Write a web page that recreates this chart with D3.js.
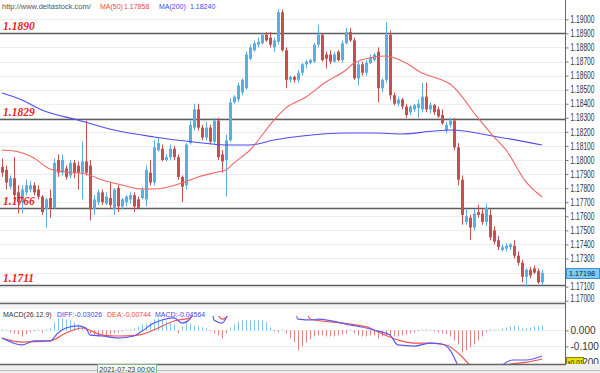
<!DOCTYPE html>
<html>
<head>
<meta charset="utf-8">
<script src="https://cdn.jsdelivr.net/npm/d3@7"></script>
<style>
body { margin: 0; background: #fff; }
svg { display: block; font-family: 'Liberation Sans', Arial, sans-serif; }
</style>
</head>
<body>
<svg id="chart" width="600" height="373"></svg>
<script>
// candles, one row per bar: [open, high, low, close]
var ohlc = [
	[1.1795,1.1801,1.1788,1.1791],[1.1793,1.1796,1.1779,1.1784],[1.1781,1.1789,1.1779,1.1787],[1.1787,1.1802,1.1772,1.1775],
	[1.1777,1.1782,1.1762,1.1770],[1.1770,1.1782,1.1762,1.1779],[1.1777,1.1786,1.1775,1.1782],[1.1779,1.1785,1.1777,1.1782],
	[1.1782,1.1784,1.1775,1.1777],[1.1779,1.1782,1.1772,1.1774],[1.1774,1.1775,1.1761,1.1763],[1.1765,1.1773,1.1752,1.1772],
	[1.1773,1.1779,1.1759,1.1766],[1.1766,1.1801,1.1765,1.1798],[1.1800,1.1804,1.1788,1.1791],[1.1791,1.1804,1.1789,1.1800],
	[1.1794,1.1796,1.1786,1.1788],[1.1789,1.1800,1.1787,1.1798],[1.1798,1.1800,1.1787,1.1791],[1.1796,1.1799,1.1779,1.1791],
	[1.1791,1.1813,1.1772,1.1799],[1.1799,1.1828,1.1789,1.1791],[1.1796,1.1800,1.1757,1.1765],[1.1765,1.1775,1.1761,1.1772],
	[1.1770,1.1779,1.1768,1.1777],[1.1777,1.1779,1.1768,1.1770],[1.1769,1.1777,1.1768,1.1774],[1.1773,1.1784,1.1765,1.1768],
	[1.1765,1.1780,1.1761,1.1779],[1.1780,1.1782,1.1763,1.1767],
	[1.1767,1.1773,1.1765,1.1772],[1.1770,1.1775,1.1767,1.1774],[1.1772,1.1777,1.1769,1.1775],[1.1775,1.1777,1.1763,1.1767],
	[1.1772,1.1774,1.1765,1.1766],[1.1773,1.1781,1.1772,1.1779],[1.1772,1.1796,1.1767,1.1793],[1.1791,1.1800,1.1782,1.1784],
	[1.1784,1.1814,1.1782,1.1809],[1.1807,1.1816,1.1806,1.1812],[1.1808,1.1811,1.1799,1.1800],[1.1800,1.1804,1.1799,1.1802],
	[1.1802,1.1811,1.1800,1.1808],[1.1808,1.1810,1.1800,1.1802],[1.1802,1.1804,1.1786,1.1788],[1.1788,1.1789,1.1770,1.1781],
	[1.1782,1.1812,1.1779,1.1811],[1.1812,1.1828,1.1811,1.1825],[1.1823,1.1840,1.1821,1.1836],[1.1836,1.1840,1.1821,1.1823],
	[1.1823,1.1825,1.1814,1.1816],[1.1816,1.1827,1.1814,1.1823],[1.1823,1.1825,1.1811,1.1813],[1.1813,1.1830,1.1811,1.1828],
	[1.1828,1.1830,1.1800,1.1802],[1.1804,1.1807,1.1791,1.1799],[1.1800,1.1818,1.1774,1.1814],[1.1814,1.1844,1.1813,1.1841],
	[1.1841,1.1846,1.1840,1.1845],
	[1.1843,1.1855,1.1841,1.1853],[1.1848,1.1858,1.1846,1.1857],[1.1851,1.1877,1.1850,1.1875],[1.1872,1.1882,1.1871,1.1880],
	[1.1878,1.1885,1.1877,1.1883],[1.1882,1.1887,1.1880,1.1884],[1.1883,1.1890,1.1882,1.1889],[1.1889,1.1891,1.1884,1.1885],
	[1.1887,1.1891,1.1880,1.1882],[1.1880,1.1887,1.1877,1.1885],[1.1884,1.1907,1.1882,1.1905],[1.1905,1.1907,1.1877,1.1878],
	[1.1878,1.1880,1.1851,1.1857],[1.1857,1.1860,1.1855,1.1859],[1.1859,1.1860,1.1855,1.1857],[1.1857,1.1864,1.1855,1.1862],
	[1.1862,1.1869,1.1860,1.1868],[1.1868,1.1871,1.1865,1.1870],[1.1869,1.1872,1.1868,1.1871],[1.1870,1.1883,1.1869,1.1882],
	[1.1882,1.1896,1.1880,1.1889],[1.1889,1.1890,1.1870,1.1871],[1.1875,1.1877,1.1865,1.1872],[1.1875,1.1878,1.1868,1.1870],
	[1.1870,1.1877,1.1869,1.1875],[1.1877,1.1878,1.1870,1.1871],[1.1871,1.1885,1.1869,1.1883],
	[1.1883,1.1894,1.1882,1.1891],[1.1891,1.1894,1.1884,1.1885],[1.1885,1.1887,1.1857,1.1858],[1.1858,1.1870,1.1853,1.1868],
	[1.1868,1.1870,1.1860,1.1862],[1.1862,1.1871,1.1860,1.1869],[1.1869,1.1875,1.1868,1.1873],[1.1871,1.1876,1.1870,1.1875],
	[1.1877,1.1880,1.1841,1.1851],[1.1851,1.1858,1.1848,1.1857],[1.1857,1.1898,1.1855,1.1889],[1.1889,1.1892,1.1843,1.1846],
	[1.1846,1.1848,1.1839,1.1840],[1.1840,1.1845,1.1838,1.1843],[1.1843,1.1844,1.1836,1.1838],[1.1838,1.1840,1.1830,1.1832],
	[1.1834,1.1839,1.1832,1.1838],[1.1836,1.1840,1.1834,1.1839],[1.1837,1.1843,1.1830,1.1840],[1.1836,1.1855,1.1834,1.1845],
	[1.1845,1.1855,1.1834,1.1836],[1.1836,1.1841,1.1833,1.1839],[1.1839,1.1840,1.1832,1.1834],[1.1836,1.1838,1.1830,1.1831],
	[1.1832,1.1836,1.1825,1.1826],[1.1821,1.1827,1.1819,1.1825],[1.1825,1.1830,1.1823,1.1828],[1.1828,1.1830,1.1807,1.1809],
	[1.1809,1.1812,1.1782,1.1786],[1.1786,1.1789,1.1754,1.1761],[1.1756,1.1765,1.1754,1.1760],[1.1759,1.1761,1.1743,1.1752],
	[1.1752,1.1765,1.1750,1.1762],[1.1763,1.1768,1.1759,1.1761],[1.1762,1.1765,1.1754,1.1756],[1.1756,1.1769,1.1753,1.1766],
	[1.1761,1.1765,1.1743,1.1745],[1.1750,1.1753,1.1740,1.1742],[1.1743,1.1746,1.1736,1.1738],[1.1736,1.1740,1.1735,1.1738],
	[1.1737,1.1741,1.1735,1.1739],[1.1738,1.1741,1.1736,1.1740],[1.1739,1.1743,1.1730,1.1732],[1.1732,1.1735,1.1725,1.1727],
	[1.1727,1.1729,1.1713,1.1717],[1.1717,1.1723,1.1710,1.1722],[1.1722,1.1724,1.1716,1.1718],[1.1723,1.1725,1.1719,1.1720],
	[1.1721,1.1723,1.1712,1.1713],[1.1713,1.1722,1.1711,1.17198]
];

// moving averages, read at some bars (bar index -> value)
var ma50Idx = [0,3,8,12,16,21,25,30,35,38,45,49,54,56,58,62,68,71,76,81,86,88,93,96,101,105,110,112,119,123,126,131,135];
var ma50 = [1.18071,1.18064,1.18014,1.17936,1.17915,1.17901,1.17858,1.17822,1.17794,1.17794,1.17837,1.17879,1.17915,1.17929,
	1.17979,1.18071,1.18284,1.18370,1.18448,1.18554,1.18640,1.18689,1.18732,1.18739,1.18689,1.18618,1.18569,1.18540,1.18299,
	1.18164,1.18071,1.17844,1.17737];
var ma200Idx = [0,5,10,19,28,38,48,56,62,68,75,86,93,100,108,112,124,135];
var ma200 = [1.18476,1.18426,1.18355,1.18284,1.18213,1.18164,1.18128,1.18107,1.18107,1.18142,1.18171,1.18192,1.18192,
	1.18185,1.18206,1.18213,1.18164,1.18107];

var levels = [1.1890, 1.1829, 1.1766, 1.1711];
var priceTicks = [1.170,1.171,1.172,1.173,1.174,1.175,1.176,1.177,1.178,1.179,1.180,
	1.181,1.182,1.183,1.184,1.185,1.186,1.187,1.188,1.189,1.190];
var lastPrice = 1.17198;

// MACD(26,12,9)
var macdHist = [
	0.006,0.006,-0.013,-0.019,-0.025,-0.038,-0.025,-0.013,-0.006,0.006,
	-0.013,0.006,0.013,0.05,0.075,0.075,0.069,0.063,0.05,0.038,
	0.025,0.013,-0.019,-0.031,-0.038,-0.031,-0.031,-0.025,-0.019,-0.013,
	-0.006,0.006,0.006,0.013,0.025,0.038,0.044,0.05,0.069,0.075,
	0.069,0.056,0.05,0.038,-0.019,0.025,0.05,0.044,0.031,0.025,
	0.019,0.013,-0.006,-0.019,-0.031,-0.05,-0.019,0.019,0.038,0.056,
	0.063,0.063,0.063,0.063,0.063,0.063,0.05,0.019,-0.006,-0.013,
	0.006,-0.019,-0.05,-0.075,-0.125,-0.1,-0.075,-0.056,-0.038,-0.031,
	-0.031,-0.038,-0.038,-0.038,-0.031,-0.025,-0.019,0.006,-0.019,-0.031,
	-0.038,-0.038,-0.031,-0.031,-0.05,-0.038,-0.031,-0.038,-0.038,-0.038,
	-0.031,-0.025,-0.019,-0.013,-0.006,0.006,0.006,0.006,-0.006,-0.013,
	-0.019,-0.025,-0.038,-0.063,-0.088,-0.138,-0.125,-0.106,-0.088,-0.063,
	-0.038,-0.013,0.006,0.006,0.006,0.013,0.019,0.025,0.031,0.025,
	0.013,0.013,0.019,0.025,0.025,0.031
];
var diffIdx = [0,5,8,12,14,16,19,21,22,25,29,33,35,38,40,43,45,47,49,52,53,55,56,58,72,74,78,79,87,92,94,97,99,103,107,110,112,114,118,122,125,128,131,135];
var diffVals = [-0.048,-0.091,-0.066,-0.066,-0.016,0.015,0.028,0.015,-0.029,-0.035,-0.048,-0.035,-0.004,0.046,0.065,0.078,
	0.046,0.071,0.2,0.2,0.065,0.046,0.078,0.25,0.25,0.071,0.065,0.071,0.034,0.009,-0.004,-0.029,-0.091,-0.098,-0.079,
	-0.085,-0.123,-0.22,-0.45,-0.35,-0.22,-0.185,-0.185,-0.16];
var deaIdx = [0,5,12,16,20,25,29,34,39,43,47,50,53,55,56,58,75,77,87,92,93,99,103,107,111,114,117,121,124,127,131,135];
var deaVals = [-0.048,-0.073,-0.066,-0.016,0.015,-0.029,-0.035,-0.029,0.015,0.059,0.078,0.15,0.13,0.071,0.078,0.2,0.2,
	0.071,0.040,0.015,0.003,-0.06,-0.079,-0.079,-0.091,-0.141,-0.22,-0.35,-0.3,-0.21,-0.2,-0.179];
var macdTicks = [0, -0.1, -0.2];
var dateLabel = '2021-07-23 00:00';

var upColor = '#5aafe2', downColor = '#c4514f';
var plotW = 565;
var axisFont = 7.5;
var svg = d3.select('#chart');

var x = d3.scaleLinear().domain([0, ohlc.length - 1]).range([2, 542]);
var y = d3.scaleLinear().domain([1.17, 1.19]).range([300.7, 19.3]);
var ym = d3.scaleLinear().domain([-0.21, 0.165]).range([364, 304]);

var defs = svg.append('defs');
defs.append('clipPath').attr('id', 'clipMain').append('rect')
	.attr('x', 0).attr('y', 0).attr('width', plotW).attr('height', 303);
defs.append('clipPath').attr('id', 'clipMacd').append('rect')
	.attr('x', 0).attr('y', 316).attr('width', plotW).attr('height', 48);

// ---- price panel
var main = svg.append('g').attr('clip-path', 'url(#clipMain)');

main.selectAll('line.grid').data(priceTicks).enter().append('line')
	.attr('x1', 0).attr('x2', plotW)
	.attr('y1', function (d) { return Math.round(y(d)) + 0.5; })
	.attr('y2', function (d) { return Math.round(y(d)) + 0.5; })
	.style('stroke', '#ededed');

main.selectAll('line.level').data(levels).enter().append('line')
	.attr('x1', 0).attr('x2', plotW)
	.attr('y1', function (d) { return Math.round(y(d)) + 0.5; })
	.attr('y2', function (d) { return Math.round(y(d)) + 0.5; })
	.style('stroke', '#5c5c5c').style('stroke-width', 1.3);

var bars = main.selectAll('g.candle').data(ohlc).enter().append('g');

bars.append('line')
	.attr('x1', function (d, i) { return Math.round(x(i)) + 0.5; })
	.attr('x2', function (d, i) { return Math.round(x(i)) + 0.5; })
	.attr('y1', function (d) { return y(d[1]); })
	.attr('y2', function (d) { return y(d[2]); })
	.style('stroke', function (d) { return d[3] >= d[0] ? upColor : downColor; });

bars.append('rect')
	.attr('x', function (d, i) { return Math.round(x(i)) - 1; })
	.attr('width', 3)
	.attr('y', function (d) { return y(Math.max(d[0], d[3])); })
	.attr('height', function (d) { return Math.max(1, Math.abs(y(d[0]) - y(d[3]))); })
	.style('fill', function (d) { return d[3] >= d[0] ? upColor : downColor; });

var maLine = d3.line()
	.x(function (d) { return x(d[0]); })
	.y(function (d) { return y(d[1]); })
	.curve(d3.curveMonotoneX);

main.append('path').datum(d3.zip(ma200Idx, ma200))
	.attr('d', maLine)
	.style('fill', 'none').style('stroke', '#4d4df5').style('stroke-width', 1.1);
main.append('path').datum(d3.zip(ma50Idx, ma50))
	.attr('d', maLine)
	.style('fill', 'none').style('stroke', '#f56464').style('stroke-width', 1.1);

// level labels
svg.selectAll('text.level').data(levels).enter().append('text')
	.attr('x', 3)
	.attr('y', function (d) { return Math.round(y(d)) - 3; })
	.text(function (d) { return d.toFixed(4); })
	.style('font-family', "'Liberation Serif', serif")
	.style('font-weight', 'bold').style('font-style', 'italic')
	.style('font-size', '11.5px').style('fill', '#ee1c1c');

// header
var header = [
	{ t: 'http://www.deltastock.com/', x: 2, c: '#555', s: 7.5 },
	{ t: 'MA(50)', x: 100, c: '#f04848', s: 7 },
	{ t: '1.17858', x: 124, c: '#f04848', s: 7 },
	{ t: 'MA(200)', x: 159, c: '#4646f0', s: 7 },
	{ t: '1.18240', x: 190, c: '#4646f0', s: 7 }
];
svg.selectAll('text.hdr').data(header).enter().append('text')
	.attr('x', function (d) { return d.x; }).attr('y', 9)
	.text(function (d) { return d.t; })
	.style('font-size', function (d) { return d.s + 'px'; })
	.style('fill', function (d) { return d.c; });

// right price axis
svg.append('line')
	.attr('x1', plotW + 0.5).attr('x2', plotW + 0.5).attr('y1', 0).attr('y2', 364)
	.style('stroke', '#666');

var yAxis = svg.append('g')
	.attr('transform', 'translate(' + (plotW + 0.5) + ',0)')
	.attr('font-family', "'Liberation Sans', Arial, sans-serif")
	.attr('font-size', axisFont)
	.call(d3.axisRight(y).tickValues(priceTicks).tickSize(3).tickPadding(2)
		.tickFormat(function (d) { return d.toFixed(5); }));
yAxis.select('.domain').remove();
yAxis.selectAll('line').style('stroke', '#777');
yAxis.selectAll('text').style('fill', '#333')
	.attr('textLength', 24).attr('lengthAdjust', 'spacingAndGlyphs');
yAxis.selectAll('.tick').filter(function (d) { return d === 1.17; }).select('text').attr('y', -2.5);

var py = Math.round(y(lastPrice));
svg.append('rect')
	.attr('x', plotW + 1.5).attr('y', py - 4.5).attr('width', 33).attr('height', 10)
	.style('fill', '#7dcbf2').style('stroke', '#3a92d4');
svg.append('text')
	.attr('x', plotW + 4).attr('y', py + 3)
	.attr('textLength', 26).attr('lengthAdjust', 'spacingAndGlyphs')
	.text(lastPrice.toFixed(5))
	.style('font-size', axisFont + 'px').style('fill', '#0d1a40');

// ---- MACD panel
svg.append('line')
	.attr('x1', 0).attr('x2', plotW).attr('y1', 303.5).attr('y2', 303.5)
	.style('stroke', '#666').style('stroke-width', 1.5);
svg.append('rect')
	.attr('x', 0).attr('y', 305).attr('width', plotW).attr('height', 4)
	.style('fill', '#f4f4f4');

var macd = svg.append('g').attr('clip-path', 'url(#clipMacd)');

macd.selectAll('line.mgrid').data([0, -0.1]).enter().append('line')
	.attr('x1', 0).attr('x2', plotW)
	.attr('y1', function (d) { return Math.round(ym(d)) + 0.5; })
	.attr('y2', function (d) { return Math.round(ym(d)) + 0.5; })
	.style('stroke', '#ededed');

macd.selectAll('line.hist').data(macdHist).enter().append('line')
	.attr('x1', function (d, i) { return Math.round(x(i)) + 0.5; })
	.attr('x2', function (d, i) { return Math.round(x(i)) + 0.5; })
	.attr('y1', ym(0))
	.attr('y2', function (d) { return ym(d); })
	.style('stroke', function (d) { return d >= 0 ? '#86c4e6' : '#d88484'; });

var macdLine = d3.line()
	.x(function (d) { return x(d[0]); })
	.y(function (d) { return ym(d[1]); })
	.curve(d3.curveMonotoneX);

macd.append('path').datum(d3.zip(deaIdx, deaVals))
	.attr('d', macdLine)
	.style('fill', 'none').style('stroke', '#f55050').style('stroke-width', 1.2);
macd.append('path').datum(d3.zip(diffIdx, diffVals))
	.attr('d', macdLine)
	.style('fill', 'none').style('stroke', '#5a5af5').style('stroke-width', 1.2);

var macdHeader = [
	{ t: 'MACD(26.12.9)', x: 3, c: '#333' },
	{ t: 'DIFF:-0.03026', x: 57, c: '#4646f0' },
	{ t: 'DEA:-0.00744', x: 107, c: '#f04848' },
	{ t: 'MACD:-0.04564', x: 155, c: '#4646f0' }
];
svg.selectAll('text.mhdr').data(macdHeader).enter().append('text')
	.attr('x', function (d) { return d.x; }).attr('y', 317)
	.text(function (d) { return d.t; })
	.style('font-size', '7px').style('fill', function (d) { return d.c; });

var mAxis = svg.append('g')
	.attr('transform', 'translate(' + (plotW + 0.5) + ',0)')
	.attr('font-family', "'Liberation Sans', Arial, sans-serif")
	.attr('font-size', axisFont)
	.call(d3.axisRight(ym).tickValues(macdTicks).tickSize(3).tickPadding(2)
		.tickFormat(function (d) { return d.toFixed(3); }));
mAxis.select('.domain').remove();
mAxis.selectAll('line').style('stroke', '#777');
mAxis.selectAll('text').style('fill', '#333');

svg.append('rect')
	.attr('x', plotW + 1.5).attr('y', 357.5).attr('width', 17).attr('height', 9)
	.style('fill', '#e9e000').style('stroke', '#8a8500');
svg.append('text')
	.attr('x', plotW + 2.5).attr('y', 365)
	.text('x0.01')
	.style('font-size', '6.5px').style('fill', '#222');

// ---- time strip
svg.append('rect')
	.attr('x', 0).attr('y', 364).attr('width', 600).attr('height', 9)
	.style('fill', '#efefef');
svg.append('line')
	.attr('x1', 0).attr('x2', plotW + 1).attr('y1', 364.5).attr('y2', 364.5)
	.style('stroke', '#666').style('stroke-width', 1.5);
svg.append('line')
	.attr('x1', 0).attr('x2', 600).attr('y1', 370.5).attr('y2', 370.5)
	.style('stroke', '#bbb');
svg.append('rect')
	.attr('x', 97.5).attr('y', 364.5).attr('width', 59).attr('height', 8.5)
	.style('fill', '#f8f8f8').style('stroke', '#7cb87c');
svg.append('text')
	.attr('x', 127).attr('y', 371.5)
	.attr('text-anchor', 'middle')
	.text(dateLabel)
	.style('font-size', '7px').style('fill', '#333');
</script>
</body>
</html>
